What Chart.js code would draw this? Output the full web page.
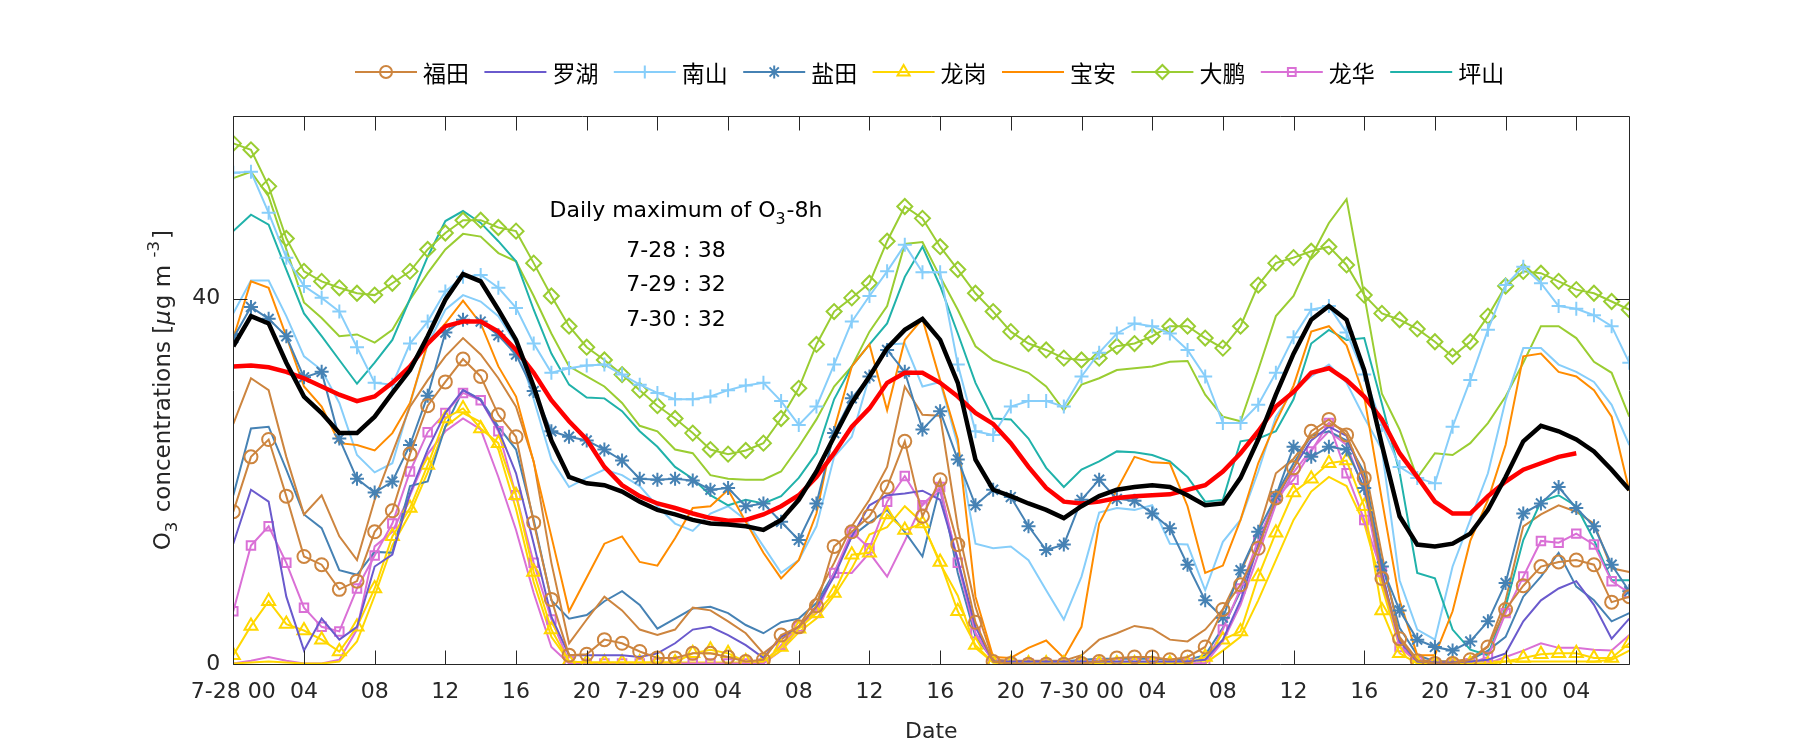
<!DOCTYPE html>
<html>
<head>
<meta charset="utf-8">
<script src="https://cdn.jsdelivr.net/npm/chart.js@4.4.0/dist/chart.umd.min.js"></script>
<style>
  html, body { margin: 0; padding: 0; background: #fff; }
</style>
</head>
<body>
<canvas id="chart" width="1800" height="750"></canvas>
<script>
// O3 hourly concentrations, 7-28 00h .. 7-31 07h

const hours = [0,1,2,3,4,5,6,7,8,9,10,11,12,13,14,15,16,17,18,19,
  20,21,22,23,24,25,26,27,28,29,30,31,32,33,34,35,36,37,38,39,
  40,41,42,43,44,45,46,47,48,49,50,51,52,53,54,55,56,57,58,59,
  60,61,62,63,64,65,66,67,68,69,70,71,72,73,74,75,76,77,78,79];

const xTickHours = [0,4,8,12,16,20,24,28,32,36,40,44,48,52,56,60,64,68,72,76];
const xTickLabels = ['7-28 00','04','08','12','16','20','7-29 00','04','08','12','16','20',
  '7-30 00','04','08','12','16','20','7-31 00','04'];
const yTicks = [0, 40];

const stations = ['福田','罗湖','南山','盐田','龙岗','宝安','大鹏','龙华','坪山'];
const dailyMaxDays = ['7-28','7-29','7-30'];
const dailyMaxValues = [38, 32, 32];

const average = [
  34.8,38.1,37.3,33.0,29.3,27.5,25.3,25.3,27.1,29.7,
  32.2,35.9,39.9,42.7,41.9,38.8,35.5,30.4,24.5,20.5,
  19.8,19.6,18.9,17.8,16.9,16.4,15.8,15.4,15.3,15.1,
  14.7,15.8,18.0,21.1,24.9,28.6,31.5,34.6,36.6,37.8,
  35.5,30.8,22.4,19.1,18.4,17.6,16.9,16.0,17.3,18.4,
  19.1,19.4,19.6,19.4,18.5,17.4,17.6,20.4,24.6,29.5,
  34.0,37.7,39.2,37.7,32.2,24.0,16.2,13.1,12.9,13.2,
  14.3,16.9,20.5,24.4,26.1,25.5,24.6,23.3,21.3,19.1];

const running = [
  32.6,32.7,32.5,32.0,31.3,30.4,29.5,28.8,29.3,30.8,
  32.6,35.1,37.0,37.5,37.5,36.4,34.4,31.9,28.9,26.6,
  24.6,21.6,19.6,18.4,17.6,17.1,16.5,16.0,15.7,15.8,
  16.4,17.3,18.5,20.5,23.1,26.0,28.0,30.8,31.9,31.9,
  30.8,29.3,27.5,26.3,24.2,21.6,19.3,17.8,17.6,17.8,
  18.2,18.4,18.5,18.6,19.1,19.6,21.1,23.1,25.5,28.2,
  29.8,31.9,32.4,31.1,29.3,26.8,23.1,20.5,17.8,16.5,
  16.5,18.4,20.0,21.3,22.0,22.7,23.1];

const futianObs = [
  16.7,22.7,24.6,18.4,11.8,10.9,8.2,9.1,14.5,16.8,
  23.0,28.3,30.9,33.4,31.5,27.3,24.9,15.5,7.1,1.0,
  1.1,2.7,2.3,1.4,0.7,0.7,1.2,1.2,0.8,0.3,
  0.5,3.2,4.1,6.4,12.9,14.5,16.2,19.4,24.4,16.2,
  20.2,13.1,4.6,0.3,0.1,0.0,0.0,0.0,0.1,0.3,
  0.7,0.8,0.8,0.5,0.8,1.9,6.0,8.7,12.7,18.2,
  21.5,25.5,26.8,25.1,20.4,9.4,2.8,0.4,0.1,0.1,
  0.5,1.9,6.0,8.6,10.7,11.2,11.4,10.9,6.8,7.4];

const futianMod = [
  26.3,31.3,30.0,22.7,16.4,18.5,14.0,11.4,18.0,23.1,
  28.2,31.1,33.7,35.7,33.9,31.3,28.2,22.2,11.1,2.3,
  4.9,7.4,5.9,3.8,3.2,3.8,6.2,5.9,4.7,3.4,
  1.2,2.7,4.1,7.4,11.1,15.1,18.0,21.6,30.4,27.3,
  27.2,15.0,6.3,0.5,0.4,0.4,0.4,0.4,1.0,2.7,
  3.4,4.2,3.9,2.7,2.5,3.8,6.0,10.0,14.5,20.9,
  22.5,25.0,26.4,25.5,22.0,12.0,3.0,0.5,0.3,0.3,
  0.6,2.0,7.0,15.1,16.4,17.4,16.7,15.4,10.5,10.1];

const luohu = [
  13.2,19.1,17.8,7.4,1.5,5.0,2.7,4.1,10.7,12.0,
  18.7,23.5,27.5,30.0,28.9,25.7,20.9,13.2,5.2,1.0,
  1.0,1.0,1.0,0.8,1.2,2.3,3.8,4.1,3.2,2.1,
  0.7,3.0,4.1,6.3,9.6,14.0,17.4,18.5,18.7,19.0,
  18.0,11.4,4.1,0.3,0.3,0.3,0.3,0.3,0.3,0.3,
  0.3,0.3,0.3,0.3,0.3,0.5,2.7,7.0,13.0,18.0,
  21.5,24.5,26.0,25.0,20.0,10.0,2.5,0.3,0.2,0.2,
  0.3,0.5,1.2,4.7,7.0,8.3,9.1,6.5,2.8,5.0];

const nanshanObs = [
  53.8,53.9,49.4,44.5,41.4,40.1,38.6,34.7,30.8,30.6,
  35.1,37.5,40.8,42.4,42.6,41.2,39.0,35.1,31.9,32.4,
  32.7,32.8,31.7,30.6,29.7,29.0,29.0,29.3,30.0,30.5,
  30.8,28.8,26.2,28.2,32.8,37.5,40.3,43.0,45.9,42.9,
  42.9,32.8,25.5,25.1,28.2,28.8,28.8,28.2,31.5,34.1,
  36.2,37.3,37.0,36.2,34.4,31.5,26.4,26.4,28.4,31.9,
  35.8,38.8,39.2,36.3,31.7,26.2,21.6,20.4,19.8,26.0,
  31.1,36.6,41.5,43.5,41.7,39.2,38.9,38.2,37.0,33.0];

const nanshanMod = [
  38.4,42.0,42.0,38.1,33.7,32.2,28.6,22.9,21.0,22.0,
  28.5,35.0,38.8,40.4,39.7,38.1,35.1,29.0,22.4,19.4,
  20.4,21.3,20.7,19.5,17.3,15.4,14.6,16.5,17.3,15.8,
  12.9,10.0,11.4,15.1,22.7,24.9,31.5,35.0,35.1,30.4,
  30.9,24.0,13.2,12.7,12.9,11.4,8.1,4.9,9.6,16.6,
  17.1,16.9,17.4,13.2,13.1,8.1,13.4,15.8,21.1,27.1,
  30.0,31.5,32.8,30.8,27.0,23.5,9.2,3.8,2.7,10.7,
  15.8,20.9,28.9,34.6,34.6,32.8,32.0,30.9,28.4,24.0];

const yantianObs = [
  35.7,39.1,37.8,35.9,31.4,32.0,24.7,20.3,18.8,20.0,
  24.0,29.4,36.3,37.7,37.5,36.0,33.9,29.9,25.5,24.9,
  24.5,23.5,22.3,20.3,20.2,20.3,20.1,19.1,19.3,17.3,
  17.6,15.6,13.6,17.6,25.3,29.1,31.5,34.4,32.0,25.7,
  27.7,22.4,17.4,19.1,18.3,15.1,12.5,13.1,18.0,20.2,
  18.1,17.9,16.5,14.9,10.9,7.0,5.1,10.3,14.5,18.4,
  23.8,22.7,23.8,23.5,19.3,10.7,5.9,2.7,1.9,1.5,
  2.5,4.7,8.9,16.5,17.6,19.4,17.1,15.1,10.9,8.0];

const yantianMod = [
  18.5,25.8,26.0,21.3,16.4,14.9,10.3,9.8,12.3,12.2,
  19.5,20.0,26.0,30.0,29.0,26.0,23.5,15.8,7.0,5.0,
  5.4,6.9,8.0,6.5,3.9,5.0,6.1,6.3,5.6,4.3,
  3.4,4.6,5.0,6.7,10.0,14.0,15.5,16.9,14.5,11.8,
  19.5,10.0,3.0,0.5,0.3,0.3,0.3,0.3,0.5,0.6,
  0.6,0.6,0.6,0.5,0.5,1.0,4.0,8.0,13.0,18.5,
  22.0,25.0,25.5,24.5,21.0,11.0,4.0,1.0,0.3,0.3,
  0.5,1.5,3.0,7.4,9.6,12.2,8.5,7.0,4.7,5.6];

const longgangObs = [
  1.0,4.2,6.9,4.4,3.7,2.7,1.4,4.1,8.3,14.0,
  17.1,21.8,26.9,28.0,25.8,24.2,18.5,10.1,3.8,0.3,
  0.2,0.2,0.2,0.2,0.2,0.2,1.2,1.6,1.2,0.3,
  0.3,1.9,3.9,5.6,7.8,12.0,12.2,16.4,14.7,15.4,
  11.2,5.8,2.1,0.2,0.1,0.1,0.1,0.1,0.1,0.1,
  0.1,0.1,0.1,0.1,0.1,0.8,2.7,3.6,9.6,14.4,
  18.8,20.3,22.0,22.3,17.3,5.9,1.2,0.1,0.1,0.1,
  0.1,0.0,0.3,0.7,1.1,1.2,1.2,0.7,0.7,2.3];

const longgangMod = [
  0.1,0.2,0.3,0.2,0.1,0.1,0.3,2.5,7.5,13.0,
  16.5,21.0,26.0,27.5,26.5,23.5,17.0,9.0,3.0,0.3,
  0.2,0.2,0.2,0.2,0.2,0.2,0.2,0.2,0.2,0.2,
  0.2,1.5,3.5,5.0,7.5,10.5,14.2,15.0,17.3,15.5,
  11.0,7.5,1.8,0.2,0.1,0.1,0.1,0.1,0.1,0.1,
  0.1,0.1,0.1,0.1,0.1,0.1,1.5,3.0,7.0,11.4,
  15.8,18.9,20.5,19.5,15.4,8.5,1.9,0.2,0.3,0.3,
  0.3,0.3,0.3,0.3,0.3,0.3,0.3,0.3,0.5,1.5];

const baoan = [
  35.7,41.9,41.2,35.9,30.4,28.2,24.2,24.0,23.4,25.3,
  28.6,35.1,37.3,39.8,37.3,32.6,29.3,22.1,14.0,5.8,
  9.5,13.2,14.0,11.2,10.8,13.8,17.1,17.3,19.1,15.6,
  12.2,9.4,11.4,16.5,25.7,32.6,35.0,27.8,35.5,37.8,
  31.1,24.6,7.4,0.8,0.7,1.8,2.6,0.7,4.1,15.4,
  19.1,22.7,22.1,22.0,17.3,10.0,10.8,15.8,22.0,26.5,
  30.5,36.4,37.0,34.9,29.3,18.0,7.0,1.0,1.0,5.8,
  13.5,18.0,24.0,33.7,34.0,32.0,31.5,30.0,27.1,19.0];

const dapengObs = [
  57.0,56.3,52.3,46.6,43.0,41.9,41.2,40.6,40.4,41.7,
  43.0,45.4,47.2,48.6,48.6,47.8,47.4,43.9,40.3,37.0,
  34.7,33.3,31.7,30.0,28.3,26.9,25.3,23.5,23.0,23.4,
  24.2,26.9,30.2,35.0,38.6,40.1,41.7,46.3,50.1,48.8,
  45.7,43.2,40.6,38.6,36.4,35.1,34.4,33.5,33.3,33.5,
  34.8,35.1,35.9,37.0,37.0,35.7,34.6,37.0,41.5,43.9,
  44.5,45.2,45.7,43.7,40.4,38.4,37.7,36.7,35.3,33.7,
  35.3,38.1,41.4,43.0,42.8,41.9,41.0,40.6,39.7,38.8];

const dapengMod = [
  53.2,53.9,51.2,45.4,39.6,37.9,35.9,36.1,35.2,36.6,
  39.9,42.8,45.4,47.1,46.8,45.0,44.1,40.3,36.2,32.6,
  31.5,30.4,28.6,26.1,25.5,23.5,23.1,20.7,20.3,20.2,
  20.2,21.1,23.8,26.8,30.4,32.6,36.4,39.2,46.0,46.2,
  42.4,38.8,34.8,33.3,32.6,31.9,30.4,27.8,30.6,31.3,
  32.2,32.4,32.6,33.1,33.2,29.5,27.1,26.6,32.2,38.1,
  40.3,44.6,48.3,50.9,40.4,29.6,25.7,20.4,23.1,22.9,
  24.2,26.4,29.3,33.0,37.0,37.0,35.7,33.1,31.9,27.1];

const longhuaObs = [
  5.8,13.0,15.1,11.1,6.2,4.1,3.6,8.3,11.9,15.4,
  21.1,25.4,27.5,29.7,28.9,25.5,18.5,11.1,4.9,0.3,
  0.1,0.1,0.1,0.1,0.1,0.1,0.1,0.1,0.1,0.1,
  0.1,2.1,4.1,5.6,10.0,14.5,12.7,17.8,20.6,17.4,
  19.4,11.1,3.4,0.3,0.1,0.1,0.1,0.1,0.1,0.1,
  0.1,0.1,0.1,0.1,0.1,0.1,3.8,8.3,13.6,18.2,
  20.2,23.3,26.4,20.9,15.8,10.1,1.9,0.3,0.1,0.1,
  0.1,0.8,5.6,9.6,13.5,13.3,14.3,13.1,9.1,7.8];

const longhuaMod = [
  0.1,0.4,0.8,0.4,0.1,0.1,0.5,3.8,12.9,14.5,
  18.5,23.0,25.5,26.9,25.7,20.5,14.7,7.8,1.9,0.1,
  0.1,0.1,0.1,0.1,0.1,0.1,0.1,0.1,0.1,0.1,
  0.1,1.5,4.0,6.0,10.0,10.0,12.2,9.6,13.5,17.6,
  18.9,11.4,3.4,0.3,0.1,0.1,0.1,0.1,0.1,0.1,
  0.1,0.1,0.1,0.1,0.1,0.1,2.5,6.5,12.0,17.5,
  21.0,23.5,25.5,24.0,19.0,9.0,2.0,0.3,0.1,0.1,
  0.1,0.1,0.8,1.5,2.3,1.8,1.8,1.6,1.5,3.2];

const pingshan = [
  47.4,49.2,48.1,43.2,38.4,35.9,33.3,30.7,33.0,35.5,
  40.0,44.6,48.5,49.6,48.3,46.3,44.1,38.8,34.0,30.6,
  29.2,29.1,27.7,25.5,23.8,21.6,20.3,18.5,17.4,18.0,
  17.6,18.4,20.4,23.1,29.0,32.6,35.0,37.3,42.4,45.7,
  41.4,36.2,30.8,26.9,26.8,24.7,21.5,19.4,21.3,22.2,
  23.3,23.2,22.9,22.2,20.5,17.8,18.0,24.4,24.7,25.5,
  29.0,35.1,36.6,35.5,35.7,28.5,21.0,10.0,9.4,3.8,
  1.6,1.0,6.3,13.6,17.8,18.5,17.3,13.6,9.2,9.2];

// ---- styling ----
const FONT = '"DejaVu Sans", "Liberation Sans", sans-serif';
const CJK = '"Noto Sans CJK SC", sans-serif';
const AXIS = '#262626';
const FS = 22;

const C = {
  futian: '#CD853F', luohu: '#6A5ACD', nanshan: '#87CEFA', yantian: '#4682B4',
  longgang: '#FFD700', baoan: '#FF8C00', dapeng: '#9ACD32', longhua: '#DA70D6', pingshan: '#20B2AA'
};

function line(label, data, color, marker, radius, width) {
  return {
    label, data,
    borderColor: color,
    borderWidth: width || 2,
    pointStyle: marker || 'circle',
    pointRadius: marker ? radius : 0,
    pointBorderWidth: 2,
    pointBorderColor: color,
    pointBackgroundColor: 'rgba(0,0,0,0)',
    pointHoverRadius: 0,
    tension: 0,
    fill: false
  };
}

// first entries are drawn on top
const datasets = [
  line('mean', average, '#000000', null, 0, 4.5),
  line('smooth', running, '#FF0000', null, 0, 4.5),
  line('福田', futianObs, C.futian, 'circle', 6.5),
  line('罗湖', luohu, C.luohu),
  line('南山', nanshanObs, C.nanshan, 'cross', 7),
  line('盐田', yantianObs, C.yantian, 'star', 7),
  line('龙岗', longgangObs, C.longgang, 'triangle', 7.5),
  line('宝安', baoan, C.baoan),
  line('大鹏', dapengObs, C.dapeng, 'rectRot', 7.5),
  line('龙华', longhuaObs, C.longhua, 'rect', 6),
  line('坪山', pingshan, C.pingshan),
  line('福田m', futianMod, C.futian),
  line('南山m', nanshanMod, C.nanshan),
  line('盐田m', yantianMod, C.yantian),
  line('龙岗m', longgangMod, C.longgang),
  line('大鹏m', dapengMod, C.dapeng),
  line('龙华m', longhuaMod, C.longhua)
];

// draw text made of pieces (sub/superscript, italic)
function richWidth(ctx, parts, size) {
  let w = 0;
  parts.forEach(p => {
    const s = (p.sub || p.sup) ? size * 0.72 : size;
    ctx.font = (p.italic ? 'italic ' : '') + s + 'px ' + FONT;
    w += ctx.measureText(p.t).width + (p.gap || 0);
  });
  return w;
}
function drawRich(ctx, parts, x, y, size) {
  ctx.textBaseline = 'middle';
  ctx.textAlign = 'left';
  parts.forEach(p => {
    const s = (p.sub || p.sup) ? size * 0.72 : size;
    ctx.font = (p.italic ? 'italic ' : '') + s + 'px ' + FONT;
    const dy = p.sub ? size * 0.4 : p.sup ? -size * 0.42 : 0;
    ctx.fillText(p.t, x, y + dy);
    x += ctx.measureText(p.t).width + (p.gap || 0);
  });
}

const decorPlugin = {
  id: 'decor',
  afterDatasetsDraw(chart) {
    const { ctx, chartArea: a, scales: { x, y } } = chart;
    ctx.save();
    // box + inward ticks
    ctx.strokeStyle = AXIS;
    ctx.lineWidth = 1;
    ctx.beginPath();
    const L = Math.round(a.left) + 0.5, R = Math.round(a.right) + 0.5;
    const T = Math.round(a.top) + 0.5, B = Math.round(a.bottom) + 0.5;
    ctx.rect(L, T, R - L, B - T);
    xTickHours.forEach(h => {
      const px = Math.round(x.getPixelForValue(h)) + 0.5;
      ctx.moveTo(px, B); ctx.lineTo(px, B - 14);
      ctx.moveTo(px, T); ctx.lineTo(px, T + 14);
    });
    yTicks.forEach(v => {
      const py = Math.round(y.getPixelForValue(v)) + 0.5;
      ctx.moveTo(L, py); ctx.lineTo(L + 14, py);
      ctx.moveTo(R, py); ctx.lineTo(R - 14, py);
    });
    ctx.stroke();

    // annotation
    ctx.fillStyle = '#000';
    const title = [{ t: 'Daily maximum of O' }, { t: '3', sub: true, gap: 1 }, { t: '-8h' }];
    const cx = 686;
    drawRich(ctx, title, cx - richWidth(ctx, title, FS) / 2, 211, FS);
    ctx.font = FS + 'px ' + FONT;
    ctx.textAlign = 'center';
    dailyMaxDays.forEach((d, i) => {
      ctx.fillText(d + ' : ' + dailyMaxValues[i], cx - 10, 251 + i * 34.5);
    });
    ctx.restore();
  },
  afterDraw(chart) {
    const { ctx, chartArea: a } = chart;
    ctx.save();
    // legend
    const entries = chart.data.datasets.filter(ds => stations.includes(ds.label));
    entries.sort((p, q) => stations.indexOf(p.label) - stations.indexOf(q.label));
    const y0 = 72;
    entries.forEach((ds, i) => {
      const x0 = 355 + i * 129.4;
      ctx.strokeStyle = ds.borderColor;
      ctx.lineWidth = 2;
      ctx.beginPath();
      ctx.moveTo(x0, y0); ctx.lineTo(x0 + 62, y0);
      ctx.stroke();
      if (ds.pointRadius > 0) {
        ctx.fillStyle = 'rgba(0,0,0,0)';
        Chart.helpers.drawPoint(ctx, {
          pointStyle: ds.pointStyle, radius: ds.pointRadius - 0.5, rotation: 0, borderWidth: 2
        }, x0 + 31, y0);
      }
      ctx.fillStyle = '#000';
      ctx.font = '23px ' + CJK;
      ctx.textAlign = 'left';
      ctx.textBaseline = 'middle';
      ctx.fillText(ds.label, x0 + 68, y0 + 1);
    });

    // axis titles
    ctx.fillStyle = AXIS;
    ctx.font = FS + 'px ' + FONT;
    ctx.textAlign = 'center';
    ctx.textBaseline = 'middle';
    ctx.fillText('Date', (a.left + a.right) / 2, 732);

    const ylab = [{ t: 'O' }, { t: '3', sub: true, gap: 2 }, { t: ' concentrations [' }, { t: 'μ', italic: true, gap: 1 },
      { t: 'g m ' }, { t: '-3', sup: true, gap: 2 }, { t: ']' }];
    ctx.translate(164, (a.top + a.bottom) / 2);
    ctx.rotate(-Math.PI / 2);
    drawRich(ctx, ylab, -richWidth(ctx, ylab, 23) / 2, 0, 23);
    ctx.restore();
  }
};

new Chart(document.getElementById('chart'), {
  type: 'line',
  data: { labels: hours, datasets },
  options: {
    responsive: false,
    animation: false,
    devicePixelRatio: 1,
    layout: { padding: { left: 0, right: 170.7, top: 116, bottom: 0 } },
    plugins: { legend: { display: false }, tooltip: { enabled: false } },
    scales: {
      x: {
        type: 'linear', min: 0, max: 79,
        grid: { display: false, drawTicks: false },
        border: { display: false },
        afterBuildTicks: s => { s.ticks = xTickHours.map(v => ({ value: v })); },
        afterFit: s => { s.height = 85.7; },
        ticks: {
          autoSkip: false, maxRotation: 0, padding: 15, color: AXIS,
          font: { family: FONT, size: FS },
          callback: (v, i) => xTickLabels[i]
        }
      },
      y: {
        min: 0, max: 60,
        grid: { display: false, drawTicks: false },
        border: { display: false },
        afterBuildTicks: s => { s.ticks = yTicks.map(v => ({ value: v })); },
        afterFit: s => { s.width = 233.3; },
        ticks: { padding: 13, color: AXIS, font: { family: FONT, size: FS } }
      }
    }
  },
  plugins: [decorPlugin]
});
</script>
</body>
</html>
